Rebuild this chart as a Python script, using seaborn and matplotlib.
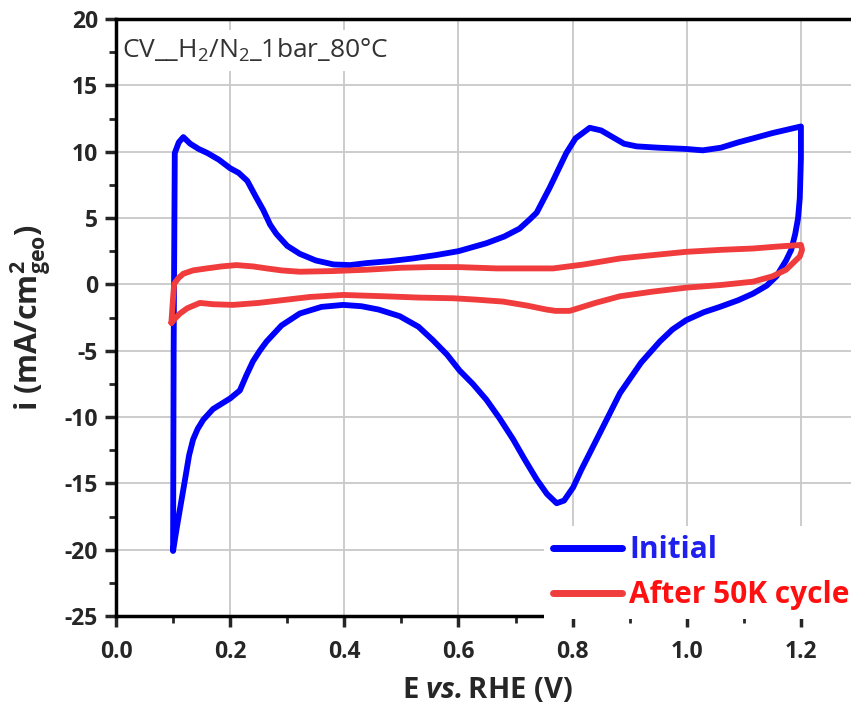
import matplotlib
matplotlib.use("Agg")
import matplotlib.pyplot as plt
import numpy as np
import pandas as pd
import seaborn as sns

E_initial = [0.100, 0.101, 0.103, 0.110, 0.118, 0.130, 0.145, 0.160, 0.180, 0.200,
             0.215, 0.230, 0.245, 0.258, 0.270, 0.281, 0.300, 0.322, 0.350, 0.381,
             0.410, 0.439, 0.480, 0.520, 0.560, 0.600, 0.649, 0.680, 0.707, 0.725,
             0.737, 0.760, 0.789, 0.805, 0.830, 0.850, 0.870, 0.890, 0.912, 0.950,
             1.000, 1.028, 1.060, 1.090, 1.116, 1.150, 1.180, 1.200, 1.200, 1.198,
             1.195, 1.190, 1.183, 1.174, 1.157, 1.140, 1.116, 1.090, 1.058, 1.030,
             0.999, 0.975, 0.953, 0.920, 0.883, 0.842, 0.815, 0.801, 0.785, 0.772,
             0.755, 0.737, 0.716, 0.696, 0.672, 0.649, 0.625, 0.602, 0.580, 0.555,
             0.530, 0.497, 0.460, 0.430, 0.398, 0.360, 0.322, 0.290, 0.264, 0.252,
             0.240, 0.228, 0.217, 0.200, 0.185, 0.170, 0.153, 0.143, 0.135, 0.128,
             0.121, 0.115, 0.109, 0.104, 0.100]
i_initial = [-20.0, -5.0, 9.9, 10.7, 11.1, 10.6, 10.2, 9.9, 9.4, 8.75,
             8.4, 7.8, 6.6, 5.6, 4.5, 3.8, 2.9, 2.3, 1.8, 1.5,
             1.45, 1.6, 1.75, 1.95, 2.2, 2.5, 3.1, 3.6, 4.2, 4.9,
             5.4, 7.3, 9.9, 11.0, 11.8, 11.6, 11.1, 10.6, 10.4, 10.3,
             10.2, 10.1, 10.3, 10.7, 11.0, 11.4, 11.7, 11.9, 9.5, 6.5,
             5.0, 3.8, 2.6, 1.8, 0.6, -0.1, -0.7, -1.2, -1.7, -2.1,
             -2.7, -3.4, -4.3, -5.9, -8.2, -11.7, -14.0, -15.3, -16.3, -16.5,
             -15.8, -14.7, -13.2, -11.7, -10.1, -8.7, -7.5, -6.5, -5.3, -4.2,
             -3.2, -2.4, -1.9, -1.65, -1.55, -1.7, -2.2, -3.1, -4.3, -5.0,
             -5.8, -6.9, -8.0, -8.6, -9.0, -9.4, -10.2, -10.9, -11.7, -12.9,
             -14.7, -16.2, -17.7, -19.0, -20.1]

E_after = [0.097, 0.100, 0.102, 0.110, 0.118, 0.135, 0.159, 0.185, 0.211, 0.240,
           0.264, 0.290, 0.322, 0.380, 0.439, 0.500, 0.550, 0.600, 0.667, 0.720,
           0.766, 0.820, 0.883, 0.940, 0.999, 1.060, 1.116, 1.160, 1.200, 1.202,
           1.198, 1.186, 1.174, 1.150, 1.116, 1.060, 0.999, 0.940, 0.883, 0.840,
           0.795, 0.770, 0.754, 0.720, 0.678, 0.630, 0.591, 0.532, 0.470, 0.398,
           0.340, 0.290, 0.250, 0.205, 0.170, 0.147, 0.125, 0.112, 0.103, 0.097]
i_after = [-2.9, -1.0, 0.05, 0.5, 0.8, 1.05, 1.2, 1.35, 1.45, 1.35,
           1.2, 1.05, 0.95, 1.0, 1.1, 1.25, 1.3, 1.3, 1.2, 1.2,
           1.2, 1.5, 1.95, 2.2, 2.45, 2.6, 2.7, 2.85, 2.97, 2.6,
           2.1, 1.6, 1.1, 0.6, 0.2, -0.05, -0.25, -0.55, -0.9, -1.4,
           -2.0, -2.0, -1.9, -1.6, -1.3, -1.15, -1.05, -1.0, -0.9, -0.8,
           -0.95, -1.2, -1.4, -1.55, -1.5, -1.4, -1.8, -2.2, -2.6, -2.9]

labels = ["Initial", "After 50K cycle"]
colors = ["#0000ff", "#f03c3c"]

df = pd.concat([
    pd.DataFrame({"E": E_initial, "i": i_initial, "series": labels[0]}),
    pd.DataFrame({"E": E_after, "i": i_after, "series": labels[1]}),
], ignore_index=True)

sns.set_theme(style="white")
plt.rcParams["font.family"] = ["Open Sans", "DejaVu Sans"]
plt.rcParams["axes.unicode_minus"] = False
plt.rcParams["mathtext.fontset"] = "custom"
plt.rcParams["mathtext.rm"] = "Open Sans"
plt.rcParams["mathtext.bf"] = "Open Sans:bold"
plt.rcParams["mathtext.it"] = "Open Sans:italic"
plt.rcParams["mathtext.bfit"] = "Open Sans:italic:bold"

fig = plt.figure(figsize=(8.51, 7.11), dpi=100)
ax = fig.add_axes([116 / 851, 95 / 711, 742 / 851, 597 / 711])

sns.lineplot(data=df, x="E", y="i", hue="series", palette=colors, sort=False,
             estimator=None, linewidth=4.2, ax=ax, zorder=3)

ax.set_xlim(0, 1.3)
ax.set_ylim(-25, 20)
ax.set_xticks(np.arange(0, 1.21, 0.2))
ax.set_xticks(np.arange(0.1, 1.3, 0.2), minor=True)
ax.set_yticks(np.arange(-25, 21, 5))
ax.set_yticks(np.arange(-22.5, 20, 5), minor=True)
ax.grid(True, which="major", color="#c8c8c8", linewidth=1.3)
ax.set_axisbelow(True)

for s in ["left", "bottom", "top"]:
    ax.spines[s].set_color("black")
    ax.spines[s].set_linewidth(2.5)
ax.spines["right"].set_visible(False)

ax.tick_params(which="major", direction="out", length=8, width=2.5,
               left=True, bottom=True, labelsize=16.5, pad=5)
ax.tick_params(axis="x", which="major", pad=9)
ax.tick_params(which="minor", direction="out", length=5, width=2,
               left=True, bottom=True)
for lab in ax.get_xticklabels() + ax.get_yticklabels():
    lab.set_fontweight("bold")

ax.set_xlabel(r"E $\mathbfit{vs.}$RHE (V)", fontsize=21, fontweight="bold", labelpad=9)
ax.set_ylabel(r"i (mA/cm$\mathbf{^{2}_{geo}}$)", fontsize=22, fontweight="bold", labelpad=8)

ax.text(0.008, 0.948, r"CV__H$_2$/N$_2$_1bar_80°C", transform=ax.transAxes,
        fontsize=19, color="#333333", ha="left", va="center", zorder=2,
        bbox=dict(facecolor="white", edgecolor="none", pad=5))

leg = ax.legend(loc="lower left", bbox_to_anchor=(0.577, -0.005), frameon=True,
                facecolor="white", edgecolor="none", framealpha=1,
                handlelength=2.3, handletextpad=0.25, labelspacing=0.5,
                borderpad=0.3, borderaxespad=0, fancybox=False,
                prop={"size": 21.5, "weight": "bold"})
for txt, c in zip(leg.get_texts(), ["#2020ee", "#ff1010"]):
    txt.set_color(c)
for ln in leg.get_lines():
    ln.set_linewidth(5)

fig.savefig("out.png", dpi=100)
